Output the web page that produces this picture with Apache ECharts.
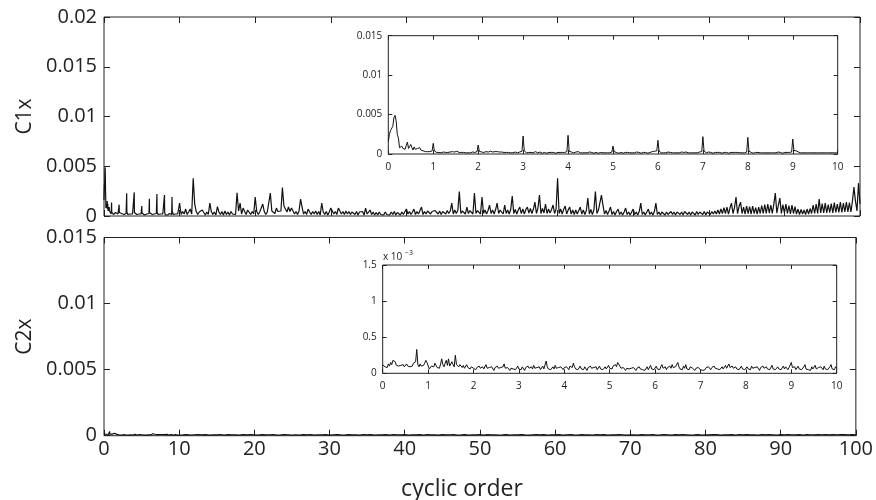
<!DOCTYPE html>
<html><head><meta charset="utf-8">
<script src="https://cdn.jsdelivr.net/npm/echarts@6/dist/echarts.min.js"></script>
<style>html,body{margin:0;padding:0;background:#fff}#c{width:876px;height:500px}</style>
</head><body><div id="c"></div><script>
// ---- data (values in units of 1e-5) ----
const UNIT = 1e-5;
// C1x, cyclic order 0..10, step 0.025 (401 values)
const c1xFine = [
160,250,300,280,350,460,490,420,250,200,80,60,100,70,90,60,110,150,70,60,120,80,50,90,60,80,70,90,80,50,60,40,50,30,40,30,25,30,20,40,
135,40,25,20,30,20,25,15,20,25,15,20,25,20,30,25,35,30,35,25,30,35,25,20,15,20,15,20,25,15,20,15,20,15,20,25,15,20,25,30,
114,35,20,25,15,20,25,30,20,25,30,35,30,25,35,30,25,30,35,25,20,25,30,20,15,20,15,20,25,15,20,15,20,25,20,15,20,25,30,35,
228,40,20,15,25,20,15,20,25,15,20,30,20,15,20,25,15,10,15,20,15,10,15,20,25,20,15,20,15,10,15,20,15,20,25,20,15,20,25,30,
237,35,20,25,20,15,20,25,20,30,20,15,20,15,10,15,20,15,20,25,15,20,15,10,15,20,15,10,15,20,25,15,20,15,10,15,20,15,20,25,
101,30,15,20,15,10,15,20,15,10,15,20,15,20,10,15,20,15,10,15,20,25,15,20,15,10,15,20,15,20,15,10,15,20,25,30,20,35,25,40,
173,35,20,15,20,15,10,15,20,25,30,20,25,15,20,15,10,15,20,15,20,25,15,20,30,25,20,15,20,15,10,15,20,15,20,15,20,25,20,30,
220,40,20,15,20,25,15,20,15,10,15,20,15,20,25,20,15,10,15,20,15,20,15,10,15,20,25,20,15,20,15,20,25,15,20,15,10,15,20,25,
211,35,15,20,15,10,15,20,15,20,25,15,10,15,20,15,10,15,20,15,20,15,10,15,20,15,20,25,15,20,15,10,15,20,15,20,25,20,15,25,
190,45,30,40,50,25,20,15,20,15,10,15,20,15,20,15,10,15,20,15,20,15,10,15,20,15,20,15,10,15,20,15,20,15,10,15,20,15,20,15,
20];
// C1x, cyclic order 10..100, step 0.2 (451 values)
const c1xCoarse = [130,
15,45,20,70,15,40,70,20,380,120,45,15,40,20,60,45,10,40,15,130,45,15,40,10,94,
40,15,45,10,50,15,40,10,45,20,40,15,234,50,130,20,80,45,15,60,40,15,45,20,190,
45,15,40,20,120,45,15,40,20,230,50,70,25,80,45,60,50,285,100,100,40,90,45,80,90,
20,45,15,50,170,90,20,45,15,70,40,15,45,20,50,15,45,10,130,40,15,45,10,40,80,
80,20,45,15,80,80,20,45,15,50,20,45,15,40,50,15,45,10,40,20,45,10,80,20,40,
60,15,40,10,35,10,40,15,35,10,40,15,35,10,40,15,45,10,35,40,10,40,15,35,70,
20,45,15,40,70,15,45,20,40,90,15,45,20,50,70,20,45,25,55,70,20,50,15,45,60,
20,55,25,50,130,20,60,25,55,245,25,50,60,20,90,25,55,60,20,230,25,55,60,20,190,
25,60,20,55,110,25,60,20,65,130,25,60,65,20,110,25,60,20,65,200,25,65,20,60,90,
25,70,20,65,90,30,75,25,70,140,25,80,210,25,75,30,120,25,70,30,65,110,25,70,380,
25,70,20,65,100,20,60,90,20,60,15,60,20,55,90,20,60,15,55,180,20,65,15,60,245,
25,60,70,210,110,20,55,15,50,90,15,45,10,45,70,15,40,10,40,80,15,40,10,40,70,
15,40,10,45,130,15,40,10,40,70,15,40,10,45,130,15,40,10,40,50,10,40,15,35,45,
15,40,10,40,50,15,40,10,45,55,15,40,10,40,45,10,45,15,40,50,15,45,10,40,45,
15,45,20,50,20,60,20,70,25,85,25,90,20,80,130,25,85,190,25,95,140,25,90,20,100,
25,95,20,100,25,85,20,90,25,105,25,115,25,120,30,110,25,120,230,30,110,180,25,115,30,
120,25,105,20,110,25,95,20,70,15,65,20,60,15,70,20,75,25,110,25,120,25,170,30,125,
30,130,30,115,35,125,30,135,35,120,35,140,35,130,40,140,40,135,40,150,290,150,50,330,120];
// C2x, cyclic order 0..10, step 0.025 (401 values)
const c2xFine = [
12,14,9,11,8,13,10,15,12,18,20,16,11,9,10,9,11,10,12,9,11,13,10,12,9,11,10,14,12,16,33,12,9,13,10,8,11,14,18,15,
17,6,8,10,12,9,14,11,8,10,7,13,20,12,9,14,18,11,20,10,8,16,12,9,25,12,14,9,12,10,8,11,7,9,12,8,10,6,9,11,
7,9,5,8,6,10,7,5,9,6,8,12,7,5,8,6,9,7,4,8,6,10,7,5,8,6,9,13,7,5,8,6,4,7,9,6,8,5,7,10,
6,8,5,9,7,4,8,6,10,7,5,9,6,11,7,5,8,6,9,5,7,10,6,8,17,9,6,8,5,7,9,6,11,7,5,8,6,9,7,5,
8,6,9,7,5,10,12,8,14,9,6,8,5,7,10,6,8,5,9,7,4,8,6,10,7,5,8,6,9,5,7,10,6,8,5,7,9,6,8,11,
7,9,6,10,8,12,9,15,17,10,7,5,8,6,4,7,5,6,4,7,5,8,6,4,7,5,9,6,8,5,7,4,6,9,5,7,11,6,8,5,
7,10,6,8,5,9,12,7,6,9,5,8,6,10,7,12,8,6,9,7,15,9,6,8,5,10,7,12,6,8,5,9,11,7,6,4,7,5,8,6,
5,7,4,6,5,8,6,9,7,5,8,6,10,7,9,6,8,5,7,9,6,8,11,7,9,13,8,6,10,7,5,9,6,8,5,7,10,6,8,5,
7,9,6,8,5,10,7,5,8,6,9,7,4,8,6,10,7,5,9,6,8,5,7,11,6,8,5,7,9,6,8,5,7,10,6,9,7,5,8,6,
15,8,6,9,5,7,10,6,8,5,7,9,12,6,8,5,7,4,9,6,8,11,6,5,8,6,9,7,5,10,6,8,5,7,9,12,6,8,5,9,
7];
// C2x, cyclic order 10.5..100, step 0.5 (180 values)
const c2xCoarse = [
6,8,5,7,9,6,8,5,7,6,9,5,8,6,7,5,8,6,9,7,5,8,6,7,9,5,6,8,7,5,
7,5,8,6,9,5,7,6,8,5,7,9,6,5,8,6,7,5,9,6,8,5,7,6,8,5,9,7,6,8,
5,7,6,8,5,9,6,7,5,8,6,7,9,5,6,8,5,7,6,9,5,8,6,7,5,6,8,5,7,6,
8,6,5,7,9,6,8,5,7,6,8,5,7,9,6,5,8,6,7,5,9,6,8,5,7,6,8,7,5,6,
7,5,8,6,7,9,5,6,8,7,5,8,6,9,7,5,6,8,5,7,6,9,8,5,7,6,8,5,9,6,
8,6,7,5,9,6,8,7,5,8,6,9,7,6,8,5,9,7,6,8,7,9,6,8,7,9,8,6,9,7];
const labelC1 = 'C1x', labelC2 = 'C2x', labelX = 'cyclic order';

// ---- build ----
const pairs = (arr, x0, step, scale) => arr.map((v, i) => [+(x0 + i * step).toFixed(4), v * scale]);
const c1Main = pairs(c1xFine.slice(0, 400), 0, 0.025, UNIT).concat(pairs(c1xCoarse, 10, 0.2, UNIT));
const c1Inset = pairs(c1xFine, 0, 0.025, UNIT);
const c2Main = pairs(c2xFine, 0, 0.025, UNIT).concat(pairs(c2xCoarse, 10.5, 0.5, UNIT));
const c2Inset = pairs(c2xFine, 0, 0.025, UNIT * 1000);

const FONT = '"Open Sans", "Noto Sans", sans-serif';
const INK = '#222';
const panels = [
  {g:{left:104, top:17, width:756, height:199}, x:[0,100,10], y:[0,0.02,0.005], xl:false, fs:20, tl:6, lm:7, xm:5, data:c1Main, name:labelC1, lw:1.2},
  {g:{left:104, top:237.5, width:756, height:198.2}, x:[0,100,10], y:[0,0.015,0.005], xl:true, fs:20, tl:6, lm:7, xm:4, data:c2Main, name:labelC2, lw:1.2},
  {g:{left:388.3, top:35.7, width:449.4, height:118.3}, x:[0,10,1], y:[0,0.015,0.005], xl:true, fs:10, tl:4, lm:6, xm:8, data:c1Inset, bg:'#fff', lw:1},
  {g:{left:382.7, top:265, width:454, height:108.3}, x:[0,10,1], y:[0,1.5,0.5], xl:true, fs:10, tl:4, lm:6, xm:8, data:c2Inset, bg:'#fff', lw:1}
];
const grid = [], xAxis = [], yAxis = [], series = [];
panels.forEach((p, i) => {
  grid.push(Object.assign({show:true, borderColor:INK, borderWidth:1, backgroundColor:p.bg || 'transparent', containLabel:false}, p.g));
  const base = () => ({type:'value', gridIndex:i, splitLine:{show:false},
    axisLine:{show:false, onZero:false},
    axisTick:{show:true, inside:true, length:p.tl, lineStyle:{color:INK, width:1}}});
  xAxis.push(Object.assign(base(), {position:'bottom', min:p.x[0], max:p.x[1], interval:p.x[2],
    axisLabel:{show:p.xl, fontSize:p.fs, fontFamily:FONT, color:INK, margin:p.xm}}));
  xAxis.push(Object.assign(base(), {position:'top', min:p.x[0], max:p.x[1], interval:p.x[2], axisLabel:{show:false}}));
  const yl = Object.assign(base(), {position:'left', min:p.y[0], max:p.y[1], interval:p.y[2],
    axisLabel:{show:true, fontSize:p.fs, fontFamily:FONT, color:INK, margin:p.lm}});
  if (p.name) Object.assign(yl, {name:p.name, nameLocation:'middle', nameGap:68, nameRotate:90,
    nameTextStyle:{fontSize:21, fontFamily:FONT, color:INK}});
  yAxis.push(yl);
  yAxis.push(Object.assign(base(), {position:'right', min:p.y[0], max:p.y[1], interval:p.y[2], axisLabel:{show:false}}));
  series.push({type:'line', xAxisIndex:2*i, yAxisIndex:2*i, data:p.data, showSymbol:false, symbol:'none',
    lineStyle:{color:'#111', width:p.lw}, z:3, silent:true});
});

const chart = echarts.init(document.getElementById('c'), null, {renderer:'canvas'});
chart.setOption({
  animation:false, backgroundColor:'#fff',
  grid, xAxis, yAxis, series,
  graphic:[
    {type:'text', x:462, y:489, style:{text:labelX, font:'23px ' + FONT, fill:INK, textAlign:'center', textVerticalAlign:'middle'}},
    {type:'text', x:383, y:257, style:{text:'x 10', font:'10px ' + FONT, fill:INK, textAlign:'left', textVerticalAlign:'middle'}},
    {type:'text', x:405, y:253, style:{text:'\u22123', font:'7px ' + FONT, fill:INK, textAlign:'left', textVerticalAlign:'middle'}}
  ]
});
</script></body></html>
